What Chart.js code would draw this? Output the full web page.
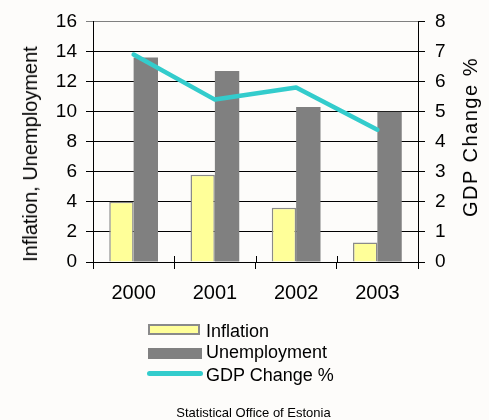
<!DOCTYPE html>
<html><head><meta charset="utf-8">
<script src="https://cdn.jsdelivr.net/npm/chart.js@4/dist/chart.umd.min.js"></script>
<style>
html,body{margin:0;padding:0;background:#fdfcfa;}
#wrap{position:relative;width:489px;height:420px;overflow:hidden;font-family:"Liberation Sans",Arial,sans-serif;color:#000;}
canvas{position:absolute;left:0;top:0;}
.t{position:absolute;white-space:nowrap;line-height:24px;}
.lg{position:absolute;white-space:nowrap;font-size:18px;line-height:20px;}
.sw{position:absolute;box-sizing:border-box;}
</style></head><body>
<div id="wrap">
<canvas id="c" width="489" height="420"></canvas>
<div id="ltitle" class="t" style="font-size:20px;left:30px;top:154px;transform:translate(-50%,-50%) rotate(-90deg);">Inflation, Unemployment</div>
<div id="rtitle" class="t" style="font-size:20px;letter-spacing:1.5px;left:470px;top:137px;transform:translate(-50%,-50%) rotate(-90deg);">GDP Change %</div>
<div id="legend"></div>
<div id="source" class="t" style="font-size:13px;line-height:15px;left:253.5px;top:404.5px;transform:translateX(-50%);">Statistical Office of Estonia</div>
</div>
<script>
const categories = ['2000', '2001', '2002', '2003'];
const inflation = [4.0, 5.8, 3.6, 1.3];
const unemployment = [13.6, 12.7, 10.3, 10.0];
const gdpChange = [6.9, 5.4, 5.8, 4.4];
const seriesNames = ['Inflation', 'Unemployment', 'GDP Change %'];
const leftAxis = { min: 0, max: 16, step: 2 };
const rightAxis = { min: 0, max: 8, step: 1 };

const FONT = '"Liberation Sans", Arial, sans-serif';
const colInfl = '#ffff99', colInflBorder = '#8a8a8a', colUnemp = '#808080', colGdp = '#33cccc';

// HTML legend built from the series names
const legend = document.getElementById('legend');
const swatches = [
  {style:'left:148px;top:324px;width:52px;height:11px;background:'+colInfl+';border:2px solid '+colInflBorder+';'},
  {style:'left:148px;top:348px;width:54px;height:11px;background:'+colUnemp+';'},
  {style:'left:147px;top:371px;width:56px;height:5px;border-radius:3px;background:'+colGdp+';'}
];
const textTops = [320.5, 342, 365];
seriesNames.forEach((n, i) => {
  const s = document.createElement('div'); s.className = 'sw'; s.style.cssText = swatches[i].style; legend.appendChild(s);
  const t = document.createElement('div'); t.className = 'lg'; t.style.left = '206px'; t.style.top = textTops[i] + 'px'; t.textContent = n; legend.appendChild(t);
});

// Cross-style category tick marks (extend above the x axis as in the reference)
const crossTicks = {
  id: 'crossTicks',
  afterDatasetsDraw(chart) {
    const xs = chart.scales.x, ctx = chart.ctx, area = chart.chartArea;
    const n = xs.ticks.length;
    ctx.save();
    ctx.strokeStyle = '#000'; ctx.lineWidth = 1;
    for (let i = 0; i <= n; i++) {
      const px = Math.round(xs.getPixelForValue(i - 0.5)) + 0.5;
      ctx.beginPath(); ctx.moveTo(px, area.bottom - 6); ctx.lineTo(px, area.bottom); ctx.stroke();
    }
    ctx.restore();
  }
};

new Chart(document.getElementById('c'), {
  data: {
    labels: categories,
    datasets: [
      { type: 'line', label: seriesNames[2], data: gdpChange, yAxisID: 'y1', borderColor: colGdp, backgroundColor: colGdp,
        borderWidth: 4.5, pointRadius: 0, tension: 0, borderCapStyle: 'round', borderJoinStyle: 'round', order: 0 },
      { type: 'bar', label: seriesNames[0], data: inflation, yAxisID: 'y', backgroundColor: colInfl, borderColor: colInflBorder,
        borderWidth: 1.5, categoryPercentage: 0.6, barPercentage: 1.0, order: 1 },
      { type: 'bar', label: seriesNames[1], data: unemployment, yAxisID: 'y', backgroundColor: colUnemp, borderWidth: 0,
        categoryPercentage: 0.6, barPercentage: 1.0, order: 1 }
    ]
  },
  plugins: [crossTicks],
  options: {
    responsive: false, animation: false, devicePixelRatio: 1,
    layout: { padding: { top: 9, bottom: 114, left: 0, right: 0 } },
    plugins: { legend: { display: false }, tooltip: { enabled: false }, title: { display: false } },
    scales: {
      x: {
        type: 'category', offset: true,
        grid: { offset: true, drawOnChartArea: false, drawTicks: true, tickLength: 7, color: '#000', lineWidth: 1 },
        border: { display: true, color: '#000', width: 1 },
        ticks: { font: { family: FONT, size: 20 }, color: '#000', padding: 12, maxRotation: 0, autoSkip: false },
        afterFit: s => { s.height = 44; }
      },
      y: {
        position: 'left', min: leftAxis.min, max: leftAxis.max,
        ticks: { stepSize: leftAxis.step, font: { family: FONT, size: 19 }, color: '#000', padding: 9 },
        grid: { color: c => (c.tick && c.tick.value === leftAxis.max) ? '#808080' : '#000', lineWidth: 1, tickLength: 7, drawTicks: true },
        border: { display: true, color: '#000', width: 1 },
        afterFit: s => { s.width = 93; }
      },
      y1: {
        position: 'right', min: rightAxis.min, max: rightAxis.max,
        ticks: { stepSize: rightAxis.step, font: { family: FONT, size: 19 }, color: '#000', padding: 10 },
        grid: { drawOnChartArea: false, tickLength: 7, color: '#000', drawTicks: true },
        border: { display: true, color: '#000', width: 1 },
        afterFit: s => { s.width = 71; }
      }
    }
  }
});
</script>
</body></html>
